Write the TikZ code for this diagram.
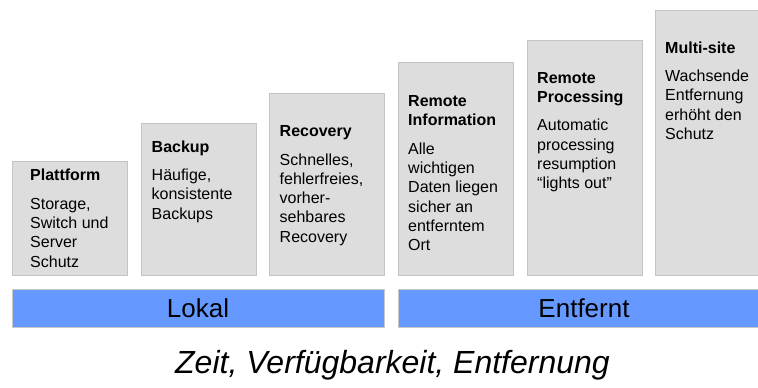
\documentclass[tikz,border=0pt]{standalone}
\usepackage{fontspec}
\setmainfont{Liberation Sans}

\definecolor{boxfill}{HTML}{DDDDDD}
\definecolor{boxline}{HTML}{C4C4C4}
\definecolor{bandblue}{HTML}{6699FF}
\definecolor{bandline}{HTML}{C8C8C8}

\tikzset{
  stage/.style={draw=boxline, fill=boxfill, line width=0.9pt, anchor=north west,
    minimum width=115pt, inner sep=0pt},
  band/.style={draw=bandline, fill=bandblue, line width=0.9pt, anchor=north west,
    minimum height=38pt, inner sep=0pt},
  stagetext/.style={anchor=base west, inner sep=0pt},
  bandtext/.style={anchor=base, inner sep=0pt, font=\fontsize{26}{30}\selectfont},
}

% title (bold) and body of one stage, first baseline at the node's base
\newcommand\stagecontent[2]{\parbox[t]{110pt}{\raggedright
  \fontsize{16}{19.3}\selectfont\textbf{#1}\par\vspace{9.2pt}#2}}

\begin{document}
\begin{tikzpicture}[x=1pt, y=-1pt]
\useasboundingbox (0,0) rectangle (758,388);
\clip (0,0) rectangle (758,388);

% stages, rising from left to right
\node[stage, minimum height=114pt] (plattform) at (12,161) {};
\node[stage, minimum height=152pt] (backup)    at (141,123) {};
\node[stage, minimum height=182pt] (recovery)  at (269,93) {};
\node[stage, minimum height=213pt] (reminfo)   at (398,62) {};
\node[stage, minimum height=235pt] (remproc)   at (527,40) {};
\node[stage, minimum height=265pt] (multisite) at (655,10) {};

\node[stagetext] (t1) at (30,180.7)
  {\stagecontent{Plattform}{Storage,\\Switch und\\Server\\Schutz}};
\node[stagetext] (t2) at (151.5,152)
  {\stagecontent{Backup}{Häufige,\\konsistente\\Backups}};
\node[stagetext] (t3) at (279.5,136.5)
  {\stagecontent{Recovery}{Schnelles,\\fehlerfreies,\\vorher-\\sehbares\\Recovery}};
\node[stagetext] (t4) at (408,106.5)
  {\stagecontent{Remote\\Information}{Alle\\wichtigen\\Daten liegen\\sicher an\\entferntem\\Ort}};
\node[stagetext] (t5) at (537,83)
  {\stagecontent{Remote\\Processing}{Automatic\\processing\\resumption\\“lights out”}};
\node[stagetext] (t6) at (665,53)
  {\stagecontent{Multi-site}{Wachsende\\Entfernung\\erhöht den\\Schutz}};

% local and remote bands
\node[band, minimum width=372pt] (lokal)    at (12,289) {};
\node[band, minimum width=372pt] (entfernt) at (398,289) {};
\node[bandtext] (lokaltext)    at (198,317.5) {Lokal};
\node[bandtext] (entferntext)  at (584,317.5) {Entfernt};

% axis caption
\node[anchor=base, inner sep=0pt, font=\fontsize{32}{38}\selectfont\itshape]
  (caption) at (392.5,373) {Zeit, Verfügbarkeit, Entfernung};
\end{tikzpicture}
\end{document}
